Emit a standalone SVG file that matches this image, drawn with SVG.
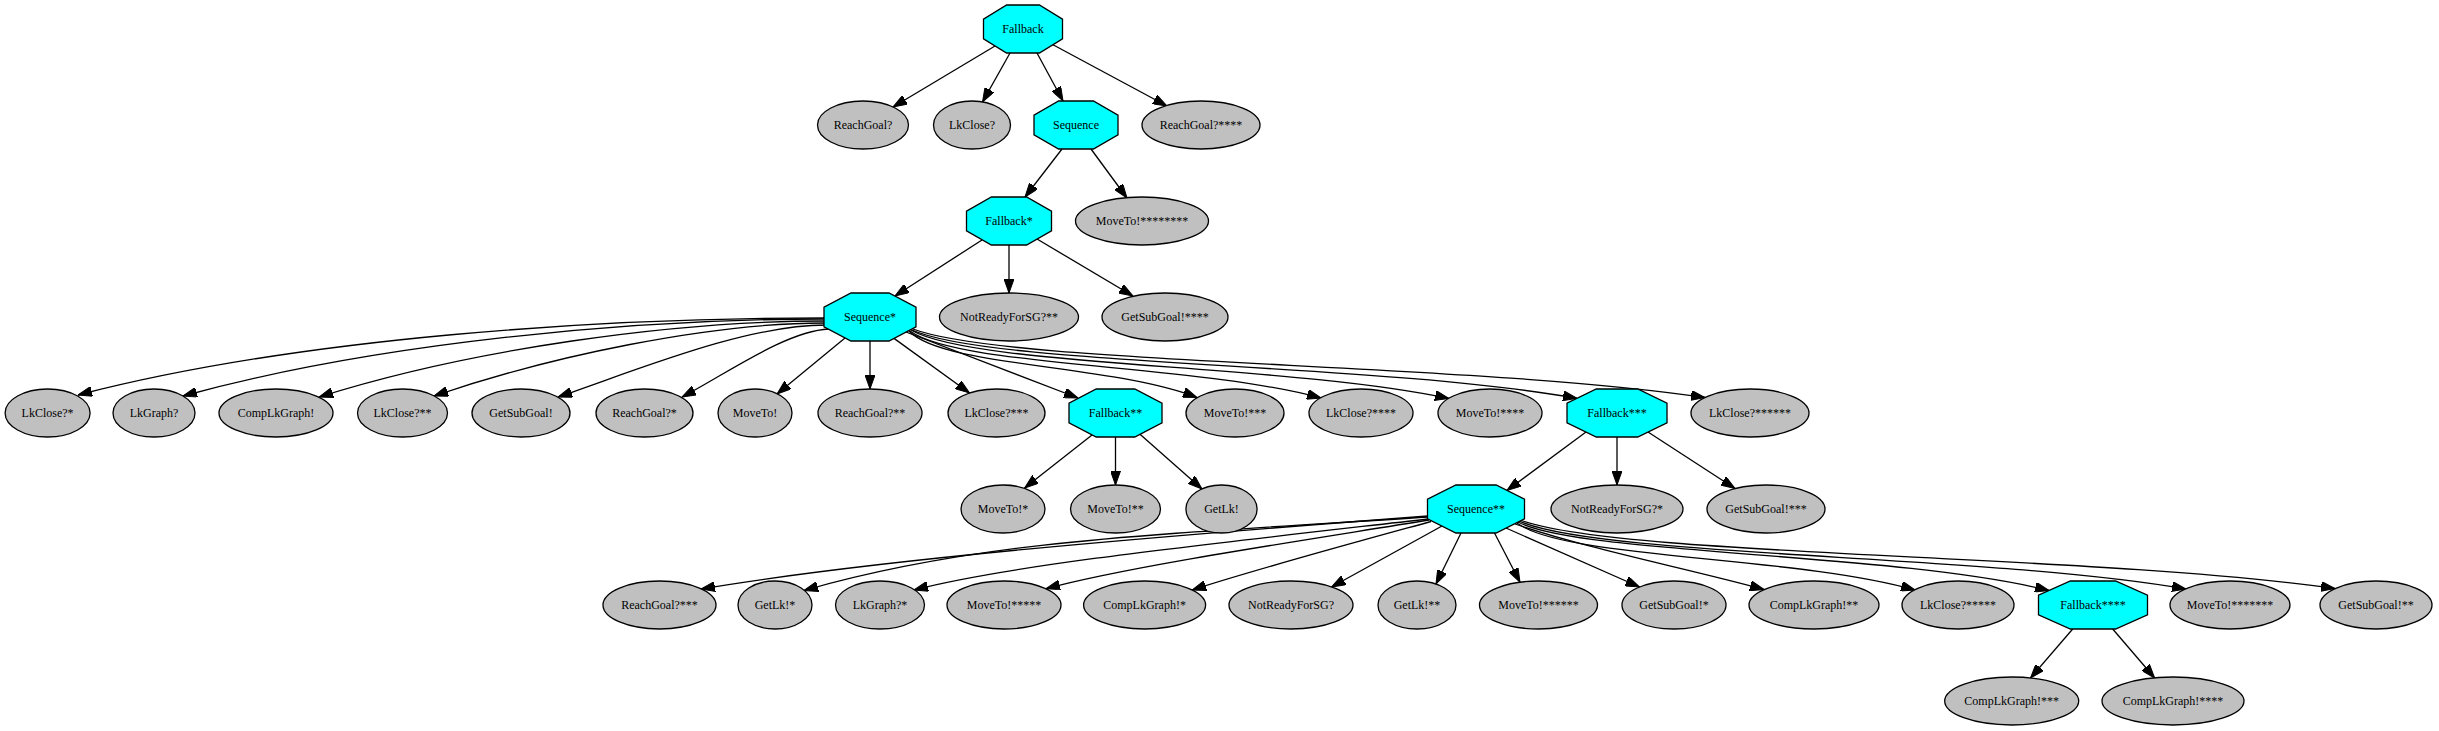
<svg xmlns="http://www.w3.org/2000/svg" width="2439" height="731" viewBox="0 0 2439 731">
<style>
.leaf{fill:#c0c0c0;stroke:#000;stroke-width:1.3}
.ctl{fill:#00ffff;stroke:#000;stroke-width:1.3}
text{font-family:"Liberation Serif","Times New Roman",serif;font-size:12px;text-anchor:middle;fill:#000}
.e{fill:none;stroke:#000;stroke-width:1.3;marker-end:url(#arr)}
</style>
<defs>
<marker id="arr" viewBox="0 0 14 10" refX="14" refY="5" markerWidth="14" markerHeight="10" markerUnits="userSpaceOnUse" orient="auto">
<path d="M0,0 L14,5 L0,10 z" fill="#000" stroke="#000" stroke-width="1"/>
</marker>
</defs>
<rect width="2439" height="731" fill="#fff"/>
<g id="edges">
<path class="e" d="M995,46 L893,107"/>
<path class="e" d="M1010,53 L982.5,102"/>
<path class="e" d="M1037,53 L1063,101"/>
<path class="e" d="M1053,44.7 L1167,106"/>
<path class="e" d="M1062,149 L1025,197"/>
<path class="e" d="M1091,149 L1127,198"/>
<path class="e" d="M982,240 L895,296"/>
<path class="e" d="M1009,245 L1009,293"/>
<path class="e" d="M1037,239 L1133,296"/>
<path class="e" d="M825,318 C601,318 302,337 78,395"/>
<path class="e" d="M825,319 C633,319 378,342.6 183,396"/>
<path class="e" d="M825,321 C673,321 471,349 319,397"/>
<path class="e" d="M825,323 C709,323 551,356 434,396"/>
<path class="e" d="M826,325 C746,325 640,369 558,397"/>
<path class="e" d="M829,329 C786,331 726,374 682,397"/>
<path class="e" d="M845,338 L777,394"/>
<path class="e" d="M870,341 L870,389"/>
<path class="e" d="M894,338.4 L969.5,393"/>
<path class="e" d="M906,332 L1078,398"/>
<path class="e" d="M909,331 C943,367 1110,364 1197,397.5"/>
<path class="e" d="M910,331 C959,367 1196,364 1321,398"/>
<path class="e" d="M911,330 C975,367 1285,363.5 1449,398.5"/>
<path class="e" d="M912,330 C992,366 1376,362.5 1577,398.3"/>
<path class="e" d="M913,329 C1008,365 1465,362 1705,397.5"/>
<path class="e" d="M1092,435 L1024.6,488"/>
<path class="e" d="M1115.5,437 L1115.5,485"/>
<path class="e" d="M1140,434.3 L1202,489"/>
<path class="e" d="M1586,432 L1507,490.4"/>
<path class="e" d="M1617,437 L1617,485"/>
<path class="e" d="M1648,432 L1735,488.5"/>
<path class="e" d="M1428,516 C1150,537 880,559 701,589"/>
<path class="e" d="M1428,517 C1150,535 980,540 804,590.5"/>
<path class="e" d="M1428,519 C1200,545 1010,565 914,590"/>
<path class="e" d="M1429,520 C1300,541 1130,566 1046,588.7"/>
<path class="e" d="M1431,521.5 C1360,541 1260,568 1192,590"/>
<path class="e" d="M1442,526 L1331.5,587"/>
<path class="e" d="M1461,533 L1436,584"/>
<path class="e" d="M1494.5,533 L1520,582.2"/>
<path class="e" d="M1506,528 L1639.5,587"/>
<path class="e" d="M1515,524 C1588,549 1685,568 1764,589.5"/>
<path class="e" d="M1517,523 C1564,559 1793,555.5 1915,590"/>
<path class="e" d="M1518,522 C1582,555 1892,552 2049,590.5"/>
<path class="e" d="M1519,521 C1599,557 1984,554 2186,589"/>
<path class="e" d="M1520,520 C1618,557 2089,553.5 2335,588.5"/>
<path class="e" d="M2072.7,629 L2030.5,678"/>
<path class="e" d="M2112.7,629 L2154.7,678"/>
</g>
<g id="n_fallback"><polygon class="ctl" points="1006.6,5 1039.4,5 1062.5,19.1 1062.5,38.9 1039.4,53 1006.6,53 983.5,38.9 983.5,19.1"/><text x="1023" y="33">Fallback</text></g>
<g id="n_reachgoal"><ellipse class="leaf" cx="863" cy="125" rx="45.5" ry="24"/><text x="863" y="129">ReachGoal?</text></g>
<g id="n_lkclose"><ellipse class="leaf" cx="972" cy="125" rx="38.5" ry="24"/><text x="972" y="129">LkClose?</text></g>
<g id="n_sequence"><polygon class="ctl" points="1058.6,101 1093.4,101 1118,115.1 1118,134.9 1093.4,149 1058.6,149 1034,134.9 1034,115.1"/><text x="1076" y="129">Sequence</text></g>
<g id="n_reachgoal4"><ellipse class="leaf" cx="1201" cy="125" rx="59" ry="24"/><text x="1201" y="129">ReachGoal?****</text></g>
<g id="n_fallback1"><polygon class="ctl" points="991.4,197 1026.6,197 1051.5,211.1 1051.5,230.9 1026.6,245 991.4,245 966.5,230.9 966.5,211.1"/><text x="1009" y="225">Fallback*</text></g>
<g id="n_moveto8"><ellipse class="leaf" cx="1142" cy="221" rx="66.5" ry="24"/><text x="1142" y="225">MoveTo!********</text></g>
<g id="n_sequence1"><polygon class="ctl" points="851,293 889,293 916,307.1 916,326.9 889,341 851,341 824,326.9 824,307.1"/><text x="870" y="321">Sequence*</text></g>
<g id="n_notready2"><ellipse class="leaf" cx="1009" cy="317" rx="69.5" ry="24"/><text x="1009" y="321">NotReadyForSG?**</text></g>
<g id="n_getsubgoal4"><ellipse class="leaf" cx="1165" cy="317" rx="63" ry="24"/><text x="1165" y="321">GetSubGoal!****</text></g>
<g id="n_lkclose1"><ellipse class="leaf" cx="47.6" cy="413" rx="42.5" ry="24"/><text x="47.6" y="417">LkClose?*</text></g>
<g id="n_lkgraph"><ellipse class="leaf" cx="154" cy="413" rx="41" ry="24"/><text x="154" y="417">LkGraph?</text></g>
<g id="n_complkgraph"><ellipse class="leaf" cx="276" cy="413" rx="57" ry="24"/><text x="276" y="417">CompLkGraph!</text></g>
<g id="n_lkclose2"><ellipse class="leaf" cx="402.5" cy="413" rx="45" ry="24"/><text x="402.5" y="417">LkClose?**</text></g>
<g id="n_getsubgoal"><ellipse class="leaf" cx="521" cy="413" rx="49" ry="24"/><text x="521" y="417">GetSubGoal!</text></g>
<g id="n_reachgoal1"><ellipse class="leaf" cx="644.5" cy="413" rx="48.5" ry="24"/><text x="644.5" y="417">ReachGoal?*</text></g>
<g id="n_moveto"><ellipse class="leaf" cx="755" cy="413" rx="37" ry="24"/><text x="755" y="417">MoveTo!</text></g>
<g id="n_reachgoal2"><ellipse class="leaf" cx="870" cy="413" rx="52" ry="24"/><text x="870" y="417">ReachGoal?**</text></g>
<g id="n_lkclose3"><ellipse class="leaf" cx="996.5" cy="413" rx="48.5" ry="24"/><text x="996.5" y="417">LkClose?***</text></g>
<g id="n_fallback2"><polygon class="ctl" points="1096.25,389 1134.75,389 1162,403.1 1162,422.9 1134.75,437 1096.25,437 1069,422.9 1069,403.1"/><text x="1115.5" y="417">Fallback**</text></g>
<g id="n_moveto3"><ellipse class="leaf" cx="1235" cy="413" rx="49" ry="24"/><text x="1235" y="417">MoveTo!***</text></g>
<g id="n_lkclose4"><ellipse class="leaf" cx="1361" cy="413" rx="52" ry="24"/><text x="1361" y="417">LkClose?****</text></g>
<g id="n_moveto4"><ellipse class="leaf" cx="1490" cy="413" rx="52" ry="24"/><text x="1490" y="417">MoveTo!****</text></g>
<g id="n_fallback3"><polygon class="ctl" points="1596.3,389 1637.7,389 1667,403.1 1667,422.9 1637.7,437 1596.3,437 1567,422.9 1567,403.1"/><text x="1617" y="417">Fallback***</text></g>
<g id="n_lkclose6"><ellipse class="leaf" cx="1750" cy="413" rx="59" ry="24"/><text x="1750" y="417">LkClose?******</text></g>
<g id="n_moveto1"><ellipse class="leaf" cx="1003" cy="509" rx="42" ry="24"/><text x="1003" y="513">MoveTo!*</text></g>
<g id="n_moveto2"><ellipse class="leaf" cx="1115.5" cy="509" rx="45" ry="24"/><text x="1115.5" y="513">MoveTo!**</text></g>
<g id="n_getlk"><ellipse class="leaf" cx="1221.5" cy="509" rx="35.6" ry="24"/><text x="1221.5" y="513">GetLk!</text></g>
<g id="n_sequence2"><polygon class="ctl" points="1455.9,485 1496.1,485 1524.5,499.1 1524.5,518.9 1496.1,533 1455.9,533 1427.5,518.9 1427.5,499.1"/><text x="1476" y="513">Sequence**</text></g>
<g id="n_notready1"><ellipse class="leaf" cx="1617" cy="509" rx="66" ry="24"/><text x="1617" y="513">NotReadyForSG?*</text></g>
<g id="n_getsubgoal3"><ellipse class="leaf" cx="1766" cy="509" rx="59" ry="24"/><text x="1766" y="513">GetSubGoal!***</text></g>
<g id="n_reachgoal3"><ellipse class="leaf" cx="659.5" cy="605" rx="56.5" ry="24"/><text x="659.5" y="609">ReachGoal?***</text></g>
<g id="n_getlk1"><ellipse class="leaf" cx="775" cy="605" rx="37" ry="24"/><text x="775" y="609">GetLk!*</text></g>
<g id="n_lkgraph1"><ellipse class="leaf" cx="880" cy="605" rx="44.5" ry="24"/><text x="880" y="609">LkGraph?*</text></g>
<g id="n_moveto5"><ellipse class="leaf" cx="1004" cy="605" rx="57" ry="24"/><text x="1004" y="609">MoveTo!*****</text></g>
<g id="n_complkgraph1"><ellipse class="leaf" cx="1144.6" cy="605" rx="61" ry="24"/><text x="1144.6" y="609">CompLkGraph!*</text></g>
<g id="n_notready"><ellipse class="leaf" cx="1291" cy="605" rx="62" ry="24"/><text x="1291" y="609">NotReadyForSG?</text></g>
<g id="n_getlk2"><ellipse class="leaf" cx="1417" cy="605" rx="39" ry="24"/><text x="1417" y="609">GetLk!**</text></g>
<g id="n_moveto6"><ellipse class="leaf" cx="1538.5" cy="605" rx="59" ry="24"/><text x="1538.5" y="609">MoveTo!******</text></g>
<g id="n_getsubgoal1"><ellipse class="leaf" cx="1674" cy="605" rx="52" ry="24"/><text x="1674" y="609">GetSubGoal!*</text></g>
<g id="n_complkgraph2"><ellipse class="leaf" cx="1814" cy="605" rx="65" ry="24"/><text x="1814" y="609">CompLkGraph!**</text></g>
<g id="n_lkclose5"><ellipse class="leaf" cx="1958" cy="605" rx="56" ry="24"/><text x="1958" y="609">LkClose?*****</text></g>
<g id="n_fallback4"><polygon class="ctl" points="2070.4,581 2115.6,581 2147.5,595.1 2147.5,614.9 2115.6,629 2070.4,629 2038.5,614.9 2038.5,595.1"/><text x="2093" y="609">Fallback****</text></g>
<g id="n_moveto7"><ellipse class="leaf" cx="2230" cy="605" rx="60" ry="24"/><text x="2230" y="609">MoveTo!*******</text></g>
<g id="n_getsubgoal2"><ellipse class="leaf" cx="2376" cy="605" rx="56" ry="24"/><text x="2376" y="609">GetSubGoal!**</text></g>
<g id="n_complkgraph3"><ellipse class="leaf" cx="2011.7" cy="701" rx="67" ry="24"/><text x="2011.7" y="705">CompLkGraph!***</text></g>
<g id="n_complkgraph4"><ellipse class="leaf" cx="2173" cy="701" rx="71" ry="24"/><text x="2173" y="705">CompLkGraph!****</text></g>
</svg>
